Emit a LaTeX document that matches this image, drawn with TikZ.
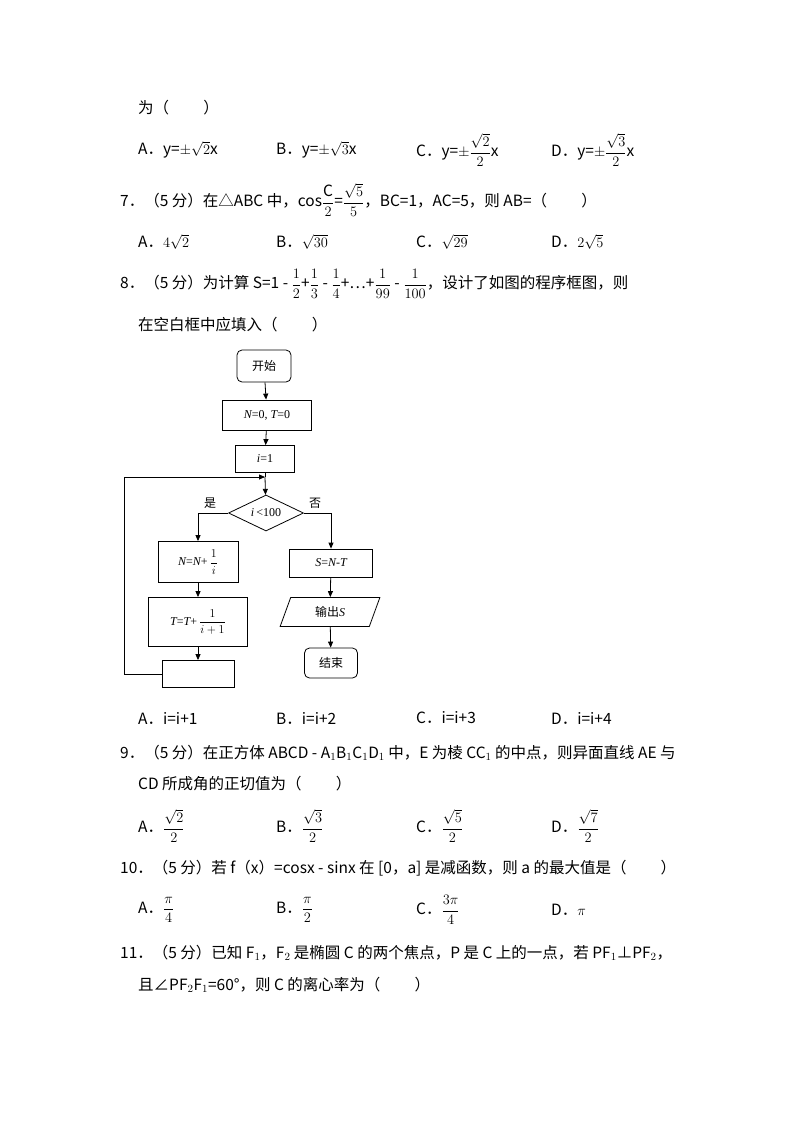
\documentclass[tikz,border=0pt]{standalone}
\usepackage{amsmath}
\usepackage{fontspec}
\setmainfont{Noto Sans CJK SC}
\newfontfamily\fcser{Liberation Serif}
\usetikzlibrary{shapes.geometric,arrows.meta}
\begin{document}
\begin{tikzpicture}[x=1pt,y=-1pt,
  txt/.style={anchor=west,inner sep=0pt,font=\fontsize{15.5}{17}\selectfont},
  fbox/.style={draw,thick,inner sep=0pt,font=\fcser\fontsize{12}{14}\selectfont},
  arr/.style={-{Triangle[length=6pt,width=5pt]},thick}]
\useasboundingbox (0,0) rectangle (800,1132);
% page text
\node[txt] (t1) at (138,108) {为（\hspace{2.2em}）};
\node[txt] (o6a) at (138,150) {A．y=$\pm\sqrt{2}$x};
\node[txt] (o6b) at (276,150) {B．y=$\pm\sqrt{3}$x};
\node[txt] (o6c) at (416,150) {C．y=$\pm\dfrac{\sqrt{2}}{2}$x};
\node[txt] (o6d) at (551,150) {D．y=$\pm\dfrac{\sqrt{3}}{2}$x};
\node[txt] (q7) at (120,200) {7．（5 分）在△ABC 中，cos$\dfrac{\mathrm{C}}{2}$=$\dfrac{\sqrt{5}}{5}$，BC=1，AC=5，则 AB=（\hspace{2.2em}）};
\node[txt] (o7a) at (138,242) {A．$4\sqrt{2}$};
\node[txt] (o7b) at (276,242) {B．$\sqrt{30}$};
\node[txt] (o7c) at (416,242) {C．$\sqrt{29}$};
\node[txt] (o7d) at (551,242) {D．$2\sqrt{5}$};
\node[txt] (q8) at (120,284) {8．（5 分）为计算 S=1 - $\dfrac{1}{2}$+$\dfrac{1}{3}$ - $\dfrac{1}{4}$+…+$\dfrac{1}{99}$ - $\dfrac{1}{100}$，设计了如图的程序框图，则};
\node[txt] (q8b) at (138,325) {在空白框中应填入（\hspace{2.2em}）};
\node[txt] (o8a) at (138,718) {A．i=i+1};
\node[txt] (o8b) at (276,718) {B．i=i+2};
\node[txt] (o8c) at (416,718) {C．i=i+3};
\node[txt] (o8d) at (551,718) {D．i=i+4};
\node[txt] (q9) at (120,753) {9．（5 分）在正方体 ABCD - A$_1$B$_1$C$_1$D$_1$ 中，E 为棱 CC$_1$ 的中点，则异面直线 AE 与};
\node[txt] (q9b) at (138,784) {CD 所成角的正切值为（\hspace{2.2em}）};
\node[txt] (o9a) at (138,826) {A．$\dfrac{\sqrt{2}}{2}$};
\node[txt] (o9b) at (276,826) {B．$\dfrac{\sqrt{3}}{2}$};
\node[txt] (o9c) at (416,826) {C．$\dfrac{\sqrt{5}}{2}$};
\node[txt] (o9d) at (551,826) {D．$\dfrac{\sqrt{7}}{2}$};
\node[txt] (q10) at (120,868) {10．（5 分）若 f（x）=cosx - sinx 在 [0，a] 是减函数，则 a 的最大值是（\hspace{2.2em}）};
\node[txt] (o10a) at (138,910) {A．$\dfrac{\pi}{4}$};
\node[txt] (o10b) at (276,910) {B．$\dfrac{\pi}{2}$};
\node[txt] (o10c) at (416,910) {C．$\dfrac{3\pi}{4}$};
\node[txt] (o10d) at (551,910) {D．$\pi$};
\node[txt] (q11) at (120,953) {11．（5 分）已知 F$_1$，F$_2$ 是椭圆 C 的两个焦点，P 是 C 上的一点，若 PF$_1$⊥PF$_2$，};
\node[txt] (q11b) at (138,985) {且∠PF$_2$F$_1$=60°，则 C 的离心率为（\hspace{2.2em}）};
% flowchart
\node[fbox,rounded corners=5pt,minimum width=54,minimum height=32,font=\fontsize{12}{14}\selectfont] (st) at (264,366) {开始};
\node[fbox,minimum width=89,minimum height=30] (b1) at (267,415) {\itshape N\upshape=0, \itshape T\upshape=0};
\node[fbox,minimum width=59,minimum height=27] (b2) at (265,459) {\itshape i\upshape=1};
\coordinate (j) at (265,477);
\node[fbox,diamond,aspect=2.1,minimum width=75,minimum height=36] (d) at (266,513) {\itshape i\upshape\,<100};
\node[fbox,minimum width=80,minimum height=41] (bn) at (198,562) {\itshape N\upshape=\itshape N\upshape+\,$\dfrac{1}{i}$};
\node[fbox,minimum width=99,minimum height=49] (bt) at (198,622) {\itshape T\upshape=\itshape T\upshape+\,$\dfrac{1}{i+1}$};
\node[fbox,minimum width=72,minimum height=27] (be) at (198,674) {};
\node[fbox,minimum width=83,minimum height=28] (bs) at (331,563) {\itshape S\upshape=\itshape N\upshape-\itshape T};
\node[fbox,trapezium,trapezium left angle=70,trapezium right angle=110,minimum width=70,minimum height=29,font=\fontsize{12}{14}\selectfont] (bo) at (330,612) {输出\fcser\itshape S};
\node[fbox,rounded corners=5pt,minimum width=53,minimum height=30,font=\fontsize{12}{14}\selectfont] (en) at (331,663) {结束};
\node[font=\fontsize{12}{14}\selectfont] (yes) at (210,503) {是};
\node[font=\fontsize{12}{14}\selectfont] (no) at (315,503) {否};
\draw[arr] (st) -- (b1);
\draw[arr] (b1) -- (b2);
\draw[thick] (b2) -- (j);
\draw[arr] (j) -- (d);
\draw[arr] (d.west) -| (bn.north);
\draw[arr] (d.east) -| (bs.north);
\draw[arr] (bn) -- (bt);
\draw[arr] (bt) -- (be);
\draw[arr] (bs) -- (bo);
\draw[arr] (bo) -- (en);
\draw[arr] (be.west) -- ++(-37,0) |- (j);
\end{tikzpicture}
\end{document}
